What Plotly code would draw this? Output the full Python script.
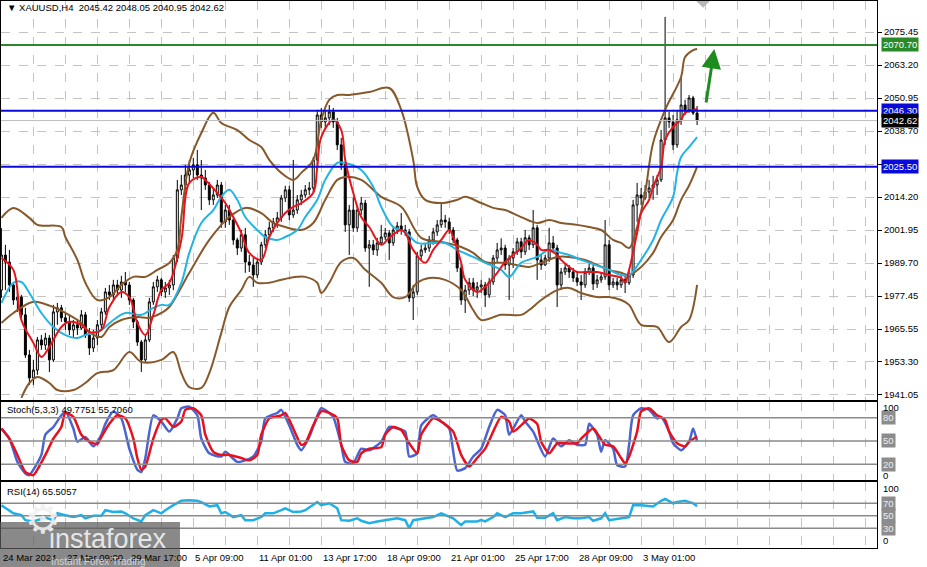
import plotly.graph_objects as go
from plotly.subplots import make_subplots

# ---- XAUUSD H4 candles (bar index 0..174) ----
bars = list(range(175))

opens = [
    1979.7, 1992.7, 1990.1, 1981.6, 1976.0, 1977.1, 1970.5, 1955.6, 1947.1, 1950.0,
    1961.2, 1959.3, 1961.9, 1953.8, 1971.6, 1973.1, 1969.4, 1967.9, 1964.9, 1966.8,
    1965.6, 1970.5, 1963.0, 1958.2, 1961.9, 1966.8, 1971.6, 1979.0, 1977.9, 1981.6,
    1979.7, 1982.7, 1981.6, 1976.0, 1967.9, 1960.4, 1953.8, 1961.2, 1975.3, 1980.9,
    1983.5, 1979.0, 1980.5, 1981.6, 1991.6, 2016.9, 2018.7, 2022.4, 2024.3, 2026.2,
    2022.4, 2021.3, 2018.7, 2013.2, 2015.0, 2018.7, 2005.0, 2009.4, 2005.7, 1998.3,
    1995.3, 2000.2, 1990.1, 1989.0, 1985.3, 1990.1, 1996.5, 2000.2, 2002.8, 2005.0,
    2006.5, 2013.9, 2016.9, 2007.6, 2009.4, 2013.2, 2015.0, 2016.9, 2017.6, 2028.0,
    2044.7, 2042.1, 2043.6, 2045.8, 2042.1, 2033.6, 2026.2, 2003.9, 2009.4, 2002.8,
    2009.4, 2012.0, 1995.3, 1996.5, 1994.6, 1997.2, 1999.4, 2000.9, 1997.2, 2002.0,
    2003.5, 2002.0, 2001.3, 1976.8, 1979.0, 1992.4, 1994.6, 1995.3, 1998.3, 2001.3,
    2003.9, 2005.7, 2005.0, 2002.0, 1998.3, 1987.9, 1976.0, 1979.7, 1982.4, 1979.7,
    1980.9, 1981.6, 1977.9, 1982.7, 1991.6, 1994.6, 1995.3, 1989.0, 1991.6, 1993.9,
    1997.6, 1993.9, 1999.1, 1996.5, 2002.8, 1990.9, 1989.0, 1991.6, 1997.2, 1995.3,
    1981.6, 1986.4, 1987.9, 1986.4, 1984.2, 1982.7, 1981.6, 1986.4, 1987.9, 1982.0,
    1983.5, 1984.6, 1996.5, 1981.6, 1982.7, 1981.6, 1983.5, 1982.4, 1985.3, 2011.3,
    2015.0, 2013.9, 2016.1, 2017.6, 2018.7, 2020.6, 2035.4, 2043.6, 2042.1, 2033.6,
    2042.9, 2048.4, 2046.6, 2051.0, 2045.42,
]
highs = [
    2002.7, 1996.5, 1994.6, 1982.4, 1979.0, 1977.9, 1973.1, 1957.5, 1953.8, 1962.3,
    1963.0, 1963.8, 1963.0, 1974.2, 1974.9, 1974.2, 1971.6, 1970.5, 1968.6, 1968.6,
    1972.3, 1971.6, 1965.6, 1964.9, 1968.6, 1973.1, 1980.5, 1981.6, 1983.5, 1983.5,
    1985.0, 1986.4, 1982.7, 1976.8, 1968.6, 1961.2, 1963.0, 1976.8, 1982.7, 1985.0,
    1984.2, 1982.7, 1983.5, 1992.7, 2020.6, 2022.4, 2026.2, 2028.0, 2028.8, 2031.7,
    2028.0, 2024.3, 2019.8, 2017.6, 2020.6, 2019.8, 2011.3, 2011.3, 2006.8, 1999.1,
    2002.0, 2002.8, 1992.7, 1991.6, 1991.6, 1997.6, 2002.0, 2005.0, 2006.5, 2008.7,
    2015.0, 2018.4, 2018.4, 2028.0, 2015.0, 2016.9, 2018.7, 2019.8, 2029.1, 2046.6,
    2047.3, 2046.6, 2048.4, 2047.3, 2043.6, 2036.2, 2027.3, 2011.3, 2014.3, 2011.3,
    2014.3, 2013.2, 1998.3, 1998.3, 1999.1, 2003.9, 2002.8, 2002.0, 2003.5, 2005.0,
    2008.3, 2003.9, 2002.4, 1981.6, 1993.9, 1996.5, 1997.2, 1999.8, 2002.8, 2005.7,
    2012.0, 2007.6, 2006.5, 2003.1, 1999.1, 1989.4, 1981.6, 1984.2, 1984.2, 1982.7,
    1983.5, 1982.7, 1984.2, 1992.7, 1997.2, 1998.9, 1996.5, 1992.7, 1995.3, 1999.1,
    1999.1, 2002.0, 2000.2, 2009.4, 2003.9, 1992.7, 1992.7, 2002.8, 1999.8, 1996.5,
    1987.9, 1989.8, 1989.0, 1987.9, 1986.4, 1985.3, 1987.9, 1990.1, 1989.0, 1985.3,
    1986.4, 2005.7, 1998.3, 1984.2, 1984.2, 1985.0, 1985.0, 1987.2, 2013.2, 2019.5,
    2017.6, 2018.7, 2020.6, 2022.1, 2022.4, 2039.1, 2081.1, 2045.8, 2044.7, 2046.6,
    2058.8, 2050.3, 2052.1, 2051.8, 2048.05,
]
lows = [
    1976.8, 1979.7, 1979.0, 1974.2, 1971.6, 1968.6, 1954.5, 1944.5, 1944.5, 1948.2,
    1957.5, 1957.5, 1949.3, 1953.0, 1966.8, 1967.9, 1964.9, 1963.0, 1961.9, 1963.0,
    1964.9, 1961.9, 1955.6, 1956.7, 1959.3, 1964.9, 1970.5, 1976.0, 1976.0, 1977.9,
    1976.8, 1979.0, 1974.2, 1965.6, 1959.0, 1949.3, 1953.0, 1960.4, 1974.2, 1979.0,
    1977.5, 1976.8, 1977.9, 1979.7, 1990.1, 2015.0, 2016.9, 2019.8, 2021.3, 2020.6,
    2009.4, 2016.9, 2011.3, 2011.3, 2013.9, 2002.8, 2002.8, 2003.9, 1996.5, 1992.7,
    1993.9, 1986.1, 1986.4, 1980.9, 1984.2, 1989.0, 1995.3, 1999.1, 2001.3, 2002.8,
    2005.0, 2012.4, 2005.7, 2006.5, 2008.0, 2011.3, 2013.9, 2015.0, 2016.1, 2026.2,
    2039.9, 2039.1, 2041.0, 2039.9, 2031.7, 2024.3, 2001.3, 1992.7, 2001.3, 2001.3,
    2007.6, 1993.9, 1980.9, 1992.7, 1992.4, 1996.5, 1998.3, 1990.9, 1996.1, 2000.5,
    2000.2, 1999.8, 1975.3, 1968.6, 1977.9, 1990.9, 1993.5, 1993.9, 1996.5, 1999.8,
    2002.8, 2002.8, 2000.5, 1997.2, 1986.4, 1974.2, 1971.2, 1977.9, 1977.5, 1976.8,
    1978.6, 1973.4, 1976.8, 1981.6, 1990.1, 1992.7, 1987.2, 1976.0, 1987.9, 1992.7,
    1991.6, 1992.7, 1994.6, 1995.3, 1983.5, 1987.2, 1988.7, 1990.1, 1993.9, 1973.4,
    1979.7, 1985.3, 1984.2, 1982.7, 1981.2, 1976.0, 1980.5, 1985.3, 1979.7, 1980.5,
    1982.4, 1983.5, 1979.7, 1980.5, 1979.7, 1980.5, 1978.6, 1981.6, 1984.2, 2005.0,
    2011.3, 2013.2, 2013.9, 2013.2, 2015.0, 2019.8, 2033.6, 2039.9, 2031.7, 2032.5,
    2041.0, 2044.7, 2045.5, 2044.7, 2040.95,
]
closes = [
    1992.7, 1990.1, 1981.6, 1976.0, 1977.1, 1970.5, 1955.6, 1947.1, 1950.0, 1961.2,
    1959.3, 1961.9, 1953.8, 1971.6, 1973.1, 1969.4, 1967.9, 1964.9, 1966.8, 1965.6,
    1970.5, 1963.0, 1958.2, 1961.9, 1966.8, 1971.6, 1979.0, 1977.9, 1981.6, 1979.7,
    1982.7, 1981.6, 1976.0, 1967.9, 1960.4, 1953.8, 1961.2, 1975.3, 1980.9, 1983.5,
    1979.0, 1980.5, 1981.6, 1991.6, 2016.9, 2018.7, 2022.4, 2024.3, 2026.2, 2022.4,
    2021.3, 2018.7, 2013.2, 2015.0, 2018.7, 2005.0, 2009.4, 2005.7, 1998.3, 1995.3,
    2000.2, 1990.1, 1989.0, 1985.3, 1990.1, 1996.5, 2000.2, 2002.8, 2005.0, 2006.5,
    2013.9, 2016.9, 2007.6, 2009.4, 2013.2, 2015.0, 2016.9, 2017.6, 2028.0, 2044.7,
    2042.1, 2043.6, 2045.8, 2042.1, 2033.6, 2026.2, 2003.9, 2009.4, 2002.8, 2009.4,
    2012.0, 1995.3, 1996.5, 1994.6, 1997.2, 1999.4, 2000.9, 1997.2, 2002.0, 2003.5,
    2002.0, 2001.3, 1976.8, 1979.0, 1992.4, 1994.6, 1995.3, 1998.3, 2001.3, 2003.9,
    2005.7, 2005.0, 2002.0, 1998.3, 1987.9, 1976.0, 1979.7, 1982.4, 1979.7, 1980.9,
    1981.6, 1977.9, 1982.7, 1991.6, 1994.6, 1995.3, 1989.0, 1991.6, 1993.9, 1997.6,
    1993.9, 1999.1, 1996.5, 2002.8, 1990.9, 1989.0, 1991.6, 1997.2, 1995.3, 1981.6,
    1986.4, 1987.9, 1986.4, 1984.2, 1982.7, 1981.6, 1986.4, 1987.9, 1982.0, 1983.5,
    1984.6, 1996.5, 1981.6, 1982.7, 1981.6, 1983.5, 1982.4, 1985.3, 2011.3, 2015.0,
    2013.9, 2016.1, 2017.6, 2018.7, 2020.6, 2035.4, 2043.6, 2042.1, 2033.6, 2042.9,
    2048.4, 2046.6, 2051.0, 2045.42, 2042.62,
]

# ---- overlays (bar index, price) ----
ma_fast_idx = [0, 3, 5, 8, 10, 12, 15, 17, 20, 22, 25, 27, 30, 32, 34, 36, 38, 40, 42, 45,
               47, 50, 51, 54, 56, 58, 60, 62, 65, 67, 69, 71, 73, 75, 78, 79, 80, 83, 85, 86,
               88, 90, 92, 95, 97, 100, 101, 103, 106, 108, 110, 112, 113, 115, 116, 119, 121,
               124, 126, 130, 132, 134, 135, 137, 139, 140, 142, 144, 146, 149, 150, 152, 155,
               156, 157, 159, 160, 162, 163, 165, 166, 168, 170, 171, 173, 174]
ma_fast = [1991.6, 1987.2, 1968.6, 1960.1, 1954.9, 1958.6, 1966.0, 1967.9, 1966.8, 1964.1,
           1964.9, 1973.4, 1979.0, 1977.1, 1967.5, 1963.0, 1970.5, 1979.7, 1982.4, 1998.3,
           2019.5, 2021.7, 2020.6, 2015.8, 2012.0, 2006.8, 2000.9, 1993.5, 1990.9, 1999.4,
           2004.6, 2008.3, 2010.6, 2012.0, 2015.8, 2025.4, 2036.5, 2042.9, 2039.1, 2028.0,
           2015.8, 2006.8, 2003.1, 1996.5, 1999.1, 2002.0, 2000.9, 1994.6, 1989.8, 1994.6,
           1998.3, 2002.0, 1999.4, 1989.8, 1983.5, 1979.0, 1980.9, 1986.1, 1990.1, 1995.3,
           1998.3, 1996.5, 1994.6, 1994.6, 1992.7, 1990.9, 1988.3, 1986.4, 1986.4, 1986.4,
           1986.1, 1985.3, 1984.2, 1982.7, 1987.2, 2000.9, 2008.3, 2013.2, 2018.0, 2025.4,
           2035.4, 2040.3, 2042.9, 2045.5, 2046.6, 2046.9]

ma_slow_idx = [0, 3, 5, 7, 10, 13, 16, 19, 21, 25, 28, 31, 35, 38, 40, 42, 45, 47, 50, 53,
               55, 57, 59, 61, 64, 66, 69, 71, 74, 76, 79, 81, 84, 86, 90, 93, 95, 98, 101,
               104, 108, 111, 114, 118, 121, 125, 127, 130, 134, 137, 140, 142, 145, 147, 150,
               152, 155, 157, 160, 163, 165, 168, 169, 170, 172, 174]
ma_slow = [1974.9, 1982.4, 1982.7, 1978.6, 1971.2, 1966.0, 1963.0, 1961.9, 1963.0, 1964.9,
           1968.6, 1971.2, 1970.5, 1973.1, 1974.2, 1974.2, 1982.4, 1993.5, 2004.6, 2009.4,
           2014.3, 2016.9, 2013.2, 2006.8, 2002.0, 1999.4, 1998.3, 1999.4, 2002.0, 2006.8,
           2013.2, 2020.6, 2026.9, 2026.9, 2024.3, 2018.0, 2010.6, 2003.1, 2001.3, 1997.2,
           1997.2, 1997.2, 1994.6, 1992.0, 1989.8, 1987.2, 1984.6, 1989.8, 1992.0, 1994.6,
           1993.5, 1992.7, 1990.9, 1989.8, 1988.3, 1987.2, 1985.3, 1985.3, 1990.9, 1998.3,
           2005.7, 2014.3, 2023.2, 2029.1, 2032.8, 2036.5]

bb_upper_idx = [0, 3, 7, 9, 15, 16, 19, 21, 24, 27, 30, 33, 36, 39, 42, 44, 45, 47, 50, 53,
                55, 59, 62, 65, 67, 70, 73, 75, 78, 80, 82, 84, 87, 92, 97, 100, 103, 104, 106,
                110, 114, 116, 120, 123, 126, 130, 134, 137, 140, 144, 147, 150, 153, 155, 157,
                159, 161, 163, 166, 170, 171, 173, 174]
bb_upper = [2006.5, 2010.2, 2006.5, 2003.9, 2003.1, 1999.4, 1990.9, 1982.4, 1976.0, 1977.1,
            1981.6, 1984.6, 1984.6, 1987.2, 1989.8, 1994.6, 2006.8, 2026.9, 2038.0, 2045.5,
            2041.7, 2039.1, 2035.4, 2032.8, 2028.0, 2023.2, 2020.6, 2023.2, 2028.0, 2042.9,
            2050.3, 2052.1, 2052.1, 2053.2, 2054.7, 2046.6, 2028.0, 2018.0, 2013.2, 2012.0,
            2013.2, 2014.3, 2012.0, 2010.2, 2009.4, 2006.8, 2004.6, 2005.7, 2004.6, 2003.9,
            2003.1, 2002.0, 1998.3, 1997.2, 1995.3, 2003.1, 2015.8, 2034.3, 2046.6, 2058.8,
            2066.2, 2068.8, 2069.2]

bb_mid_idx = [0, 3, 7, 9, 13, 16, 20, 22, 25, 27, 30, 34, 37, 40, 42, 47, 52, 57, 61, 65,
              68, 71, 75, 78, 81, 84, 86, 90, 95, 100, 105, 110, 115, 118, 121, 126, 132, 135,
              139, 142, 146, 149, 152, 155, 157, 160, 163, 165, 168, 170, 172, 174]
bb_mid = [1967.5, 1971.2, 1974.9, 1975.3, 1973.4, 1971.2, 1967.5, 1964.1, 1962.3, 1966.0,
          1968.6, 1969.7, 1969.4, 1971.2, 1973.4, 1986.1, 1998.3, 2006.8, 2010.2, 2008.3,
          2004.6, 2003.1, 2002.0, 2004.6, 2013.2, 2020.6, 2021.7, 2020.6, 2014.3, 2010.6,
          1999.1, 1997.6, 1995.7, 1993.5, 1990.1, 1989.8, 1988.3, 1989.8, 1992.0, 1992.0,
          1990.9, 1989.0, 1987.2, 1986.1, 1985.3, 1988.3, 1993.5, 1999.4, 2005.7, 2013.2,
          2018.5, 2025.4]

bb_lower_idx = [5, 7, 9, 12, 14, 18, 21, 24, 28, 32, 35, 40, 43, 45, 47, 50, 52, 55, 57, 60,
                62, 64, 67, 70, 74, 76, 79, 80, 82, 85, 88, 91, 95, 98, 101, 104, 107, 111,
                115, 118, 120, 125, 130, 132, 135, 139, 142, 145, 149, 152, 155, 157, 160, 164,
                167, 170, 172, 174]
bb_lower = [1939.7, 1945.2, 1947.4, 1945.2, 1942.6, 1942.6, 1945.2, 1948.9, 1950.0, 1956.7,
            1953.0, 1953.8, 1956.7, 1948.9, 1943.7, 1943.4, 1948.9, 1963.8, 1973.4, 1979.7,
            1984.6, 1982.4, 1982.4, 1983.5, 1984.6, 1984.6, 1982.4, 1978.6, 1982.4, 1990.1,
            1991.6, 1987.2, 1982.4, 1977.1, 1977.1, 1982.4, 1984.2, 1983.5, 1979.7, 1972.3,
            1968.6, 1970.5, 1970.5, 1972.3, 1976.0, 1979.7, 1980.5, 1978.6, 1977.1, 1977.1,
            1976.0, 1974.2, 1966.8, 1966.0, 1960.4, 1966.0, 1968.6, 1981.6]

# ---- Stochastic(5,3,3) ----
stoch_main_idx = [0, 2, 4, 6, 7, 8, 10, 11, 13, 15, 16, 18, 19, 21, 23, 25, 26, 28, 30, 32,
                  34, 35, 36, 38, 40, 42, 44, 45, 47, 49, 50, 52, 55, 56, 59, 61, 63, 65, 66,
                  69, 70, 72, 74, 75, 77, 80, 82, 83, 85, 86, 88, 90, 92, 95, 97, 99, 101, 102,
                  104, 105, 108, 110, 112, 114, 116, 118, 120, 122, 124, 126, 127, 130, 131,
                  133, 136, 138, 140, 142, 144, 146, 147, 149, 150, 151, 153, 154, 156, 157,
                  158, 160, 162, 164, 165, 167, 168, 170, 172, 173, 174]
stoch_main = [66, 53, 23, 8, 6, 13, 32, 58, 68, 83, 88, 66, 49, 55, 43, 58, 72, 88, 79, 40,
              13, 10, 28, 83, 75, 62, 79, 92, 94, 83, 53, 34, 30, 36, 23, 25, 30, 49, 79,
              86, 90, 70, 45, 38, 55, 92, 86, 81, 45, 23, 21, 40, 38, 49, 68, 66, 62, 30,
              34, 70, 83, 75, 66, 12, 15, 30, 40, 68, 90, 83, 58, 83, 75,
              62, 30, 53, 43, 51, 45, 45, 72, 58, 36, 51, 40, 19, 17, 45,
              83, 92, 90, 79, 81, 62, 47, 38, 49, 66, 49.78]

stoch_signal_idx = [0, 2, 4, 6, 8, 9, 11, 13, 15, 16, 18, 20, 22, 24, 25, 27, 29, 31, 33, 34,
                    35, 36, 38, 40, 41, 43, 45, 46, 48, 50, 51, 53, 55, 57, 60, 62, 64, 65, 67,
                    70, 71, 73, 75, 76, 78, 80, 82, 84, 85, 87, 89, 90, 92, 95, 96, 98, 100,
                    102, 104, 105, 108, 110, 113, 115, 117, 119, 121, 123, 125, 127, 128, 130,
                    132, 134, 135, 137, 139, 141, 144, 145, 148, 149, 151, 153, 155, 156, 157,
                    159, 160, 162, 164, 166, 167, 169, 171, 172, 174]
stoch_signal = [66, 53, 32, 10, 6, 13, 32, 53, 68, 86, 81, 58, 49, 46, 55, 72, 83, 79, 53, 28,
                13, 17, 53, 77, 79, 68, 75, 90, 92, 83, 58, 36, 32, 32, 28, 25, 32, 58, 79,
                83, 86, 66, 45, 47, 70, 88, 86, 79, 45, 25, 23, 34, 40, 42, 58, 68, 64,
                47, 34, 58, 79, 75, 62, 32, 17, 28, 40, 62, 81, 75, 62, 70,
                79, 72, 49, 34, 47, 47, 47, 53, 66, 60, 45, 43, 28, 21, 30,
                62, 88, 92, 83, 77, 62, 47, 43, 49, 55.71]

# ---- RSI(14) ----
rsi_idx = [0, 2, 3, 5, 6, 8, 10, 11, 13, 14, 16, 18, 20, 21, 23, 25, 26, 28, 30, 31, 33, 35,
           36, 38, 40, 41, 43, 45, 47, 49, 50, 52, 54, 55, 56, 58, 60, 61, 63, 65, 66, 68, 70,
           71, 73, 75, 76, 79, 80, 82, 84, 85, 87, 89, 90, 92, 94, 95, 97, 99, 101, 102, 103,
           105, 108, 110, 111, 113, 115, 116, 119, 120, 121, 123, 124, 126, 128, 130, 133, 134,
           136, 138, 139, 141, 143, 145, 147, 148, 150, 151, 152, 155, 157, 158, 160, 163, 165,
           166, 168, 169, 171, 173, 174]
rsi = [67, 59, 54, 51, 43, 41, 45, 47, 43, 54, 51, 48, 51, 46, 50, 50, 59, 56, 57, 54, 46, 41,
       51, 59, 54, 59, 67, 74, 75, 74, 72, 65, 67, 54, 56, 48, 51, 43, 43, 48, 54, 54, 59,
       62, 56, 57, 59, 72, 67, 70, 62, 43, 42, 46, 42, 38, 41, 42, 43, 46, 43, 30, 43,
       45, 48, 54, 51, 46, 35, 41, 41, 43, 41, 48, 54, 48, 54, 54, 57, 47,
       47, 54, 43, 48, 46, 46, 48, 42, 46, 54, 43, 46, 48, 67, 67, 65, 74,
       77, 70, 72, 74, 70, 65.51]

price_ticks = [2075.45, 2063.20, 2050.95, 2038.70, 2026.45, 2014.20, 2001.95, 1989.70,
               1977.45, 1965.20, 1953.30, 1941.05]
price_tick_text = ["2075.45", "2063.20", "2050.95", "2038.70", "", "2014.20", "2001.95",
                   "1989.70", "1977.45", "1965.55", "1953.30", "1941.05"]

date_ticks = [0, 16, 32, 48, 64, 80, 96, 112, 128, 144, 160]
date_labels = ["24 Mar 2024", "27 Mar 09:00", "29 Mar 17:00", "5 Apr 09:00", "11 Apr 01:00",
               "13 Apr 17:00", "18 Apr 09:00", "21 Apr 01:00", "25 Apr 17:00", "28 Apr 09:00",
               "3 May 01:00"]

resistance = 2070.70
levels_blue = [2046.30, 2025.50]
last_price = 2042.62

FONT = "Liberation Sans"
GRID = "#c4c4c4"
BROWN = "#87582a"

fig = make_subplots(rows=3, cols=1, shared_xaxes=True, vertical_spacing=0.0)

fig.add_trace(go.Candlestick(
    x=bars, open=opens, high=highs, low=lows, close=closes,
    increasing=dict(line=dict(color="black", width=1), fillcolor="white"),
    decreasing=dict(line=dict(color="black", width=1), fillcolor="black"),
    whiskerwidth=0, showlegend=False, hoverinfo="skip",
), row=1, col=1)

for idx, vals in [(bb_upper_idx, bb_upper), (bb_mid_idx, bb_mid), (bb_lower_idx, bb_lower)]:
    fig.add_trace(go.Scatter(x=idx, y=vals, mode="lines", line=dict(color=BROWN, width=2, shape="spline"),
                             showlegend=False, hoverinfo="skip"), row=1, col=1)
fig.add_trace(go.Scatter(x=ma_slow_idx, y=ma_slow, mode="lines",
                         line=dict(color="#22b4e4", width=2, shape="spline"),
                         showlegend=False, hoverinfo="skip"), row=1, col=1)
fig.add_trace(go.Scatter(x=ma_fast_idx, y=ma_fast, mode="lines",
                         line=dict(color="#e8141c", width=2, shape="spline"),
                         showlegend=False, hoverinfo="skip"), row=1, col=1)
# chart shift marker at the top
fig.add_trace(go.Scatter(x=[175.5], y=[2087.6], mode="markers",
                         marker=dict(symbol="diamond", size=13, color="#b8b8b8"),
                         showlegend=False, hoverinfo="skip"), row=1, col=1)

fig.add_trace(go.Scatter(x=stoch_main_idx, y=stoch_main, mode="lines",
                         line=dict(color="#4a64d2", width=2.5, shape="spline", smoothing=0.6),
                         showlegend=False, hoverinfo="skip"), row=2, col=1)
fig.add_trace(go.Scatter(x=stoch_signal_idx, y=stoch_signal, mode="lines",
                         line=dict(color="#e8101c", width=2.5, shape="spline", smoothing=0.6),
                         showlegend=False, hoverinfo="skip"), row=2, col=1)
fig.add_trace(go.Scatter(x=rsi_idx, y=rsi, mode="lines",
                         line=dict(color="#1eb0e6", width=2.5),
                         showlegend=False, hoverinfo="skip"), row=3, col=1)

# horizontal levels
fig.add_hline(y=last_price, line=dict(color="#bdbdbd", width=1), row=1, col=1)
fig.add_hline(y=resistance, line=dict(color="#2a8a2a", width=2), row=1, col=1)
for lv in levels_blue:
    fig.add_hline(y=lv, line=dict(color="#0a0ad8", width=2), row=1, col=1)
for lv in [80, 50, 20]:
    fig.add_hline(y=lv, line=dict(color="#8a8a8a", width=1.5), row=2, col=1)
for lv in [70, 50, 30]:
    fig.add_hline(y=lv, line=dict(color="#8a8a8a", width=1.5), row=3, col=1)

# arrow
fig.add_annotation(x=178.3, y=2069.2, ax=176.2, ay=2048.8, xref="x", yref="y", axref="x", ayref="y",
                   text="", showarrow=True, arrowhead=2, arrowsize=1.3, arrowwidth=3,
                   arrowcolor="#1e8c1e")

grid_ticks = list(range(0, 220, 8))
axis_common = dict(showline=True, mirror=True, linecolor="black", linewidth=1)
for n in (1, 2, 3):
    fig.update_xaxes(range=[-0.1, 219], tickvals=grid_ticks, showticklabels=False,
                     showgrid=True, gridcolor=GRID, griddash="dash", gridwidth=1,
                     zeroline=False, rangeslider_visible=False, row=n, col=1, **axis_common)

fig.update_yaxes(domain=[0.2706, 1.0], range=[1938.9, 2087.0], side="right",
                 tickvals=price_ticks, ticktext=price_tick_text,
                 tickfont=dict(family=FONT, size=9.5, color="black"),
                 ticks="outside", ticklen=4, tickcolor="black",
                 showgrid=True, gridcolor=GRID, griddash="dash", zeroline=False,
                 row=1, col=1, **axis_common)
fig.update_yaxes(domain=[0.1243, 0.2669], range=[-0.3, 100.1], showticklabels=False,
                 showgrid=False, zeroline=False, row=2, col=1, **axis_common)
fig.update_yaxes(domain=[0.0, 0.1207], range=[-1.5, 104.1], showticklabels=False,
                 showgrid=False, zeroline=False, row=3, col=1, **axis_common)


def tag(y, text, bg, yref="y", color="white"):
    fig.add_annotation(xref="paper", x=1, xanchor="left", xshift=4, y=y, yref=yref,
                       text=text, showarrow=False, bgcolor=bg, borderpad=1,
                       font=dict(family=FONT, size=9.5, color=color))


tag(resistance, "2070.70", "#2a8a2a")
tag(levels_blue[0], "2046.30", "#0a0ad8")
tag(last_price, "2042.62", "black")
tag(levels_blue[1], "2025.50", "#0a0ad8")
for lv in [80, 50, 20]:
    tag(lv, str(lv), "#8c8c8c", yref="y2", color="#eeeeee")
for lv in [70, 50, 30]:
    tag(lv, str(lv), "#8c8c8c", yref="y3", color="#eeeeee")
for yv, yr, t in [(93, "y2", "100"), (5, "y2", "0"), (93, "y3", "100"), (9.7, "y3", "0")]:
    fig.add_annotation(xref="paper", x=1, xanchor="left", xshift=4, y=yv, yref=yr, text=t,
                       showarrow=False, font=dict(family=FONT, size=9.5, color="black"))

# date labels
for t, lab in zip(date_ticks, date_labels):
    fig.add_annotation(x=t, xref="x3", y=-0.0165, yref="paper", xanchor="left", yanchor="middle",
                       text=lab, showarrow=False, font=dict(family=FONT, size=9.5, color="black"))

# panel captions
fig.add_annotation(xref="paper", x=0.004, y=0.989, yref="paper", xanchor="left", yanchor="middle",
                   text="▼ XAUUSD,H4  2045.42 2048.05 2040.95 2042.62", showarrow=False,
                   font=dict(family=FONT, size=9.5, color="black"))
fig.add_annotation(xref="paper", x=0.004, y=0.2541, yref="paper", xanchor="left", yanchor="middle",
                   text="Stoch(5,3,3) 49.7751 55.7060", showarrow=False,
                   font=dict(family=FONT, size=9.5, color="black"))
fig.add_annotation(xref="paper", x=0.004, y=0.1024, yref="paper", xanchor="left", yanchor="middle",
                   text="RSI(14) 65.5057", showarrow=False,
                   font=dict(family=FONT, size=9.5, color="black"))

# watermark (semi-transparent, drawn over the bottom-left corner)
fig.add_shape(type="rect", xref="paper", yref="paper", x0=-0.002, x1=0.2043, y0=-0.04, y1=0.0475,
              fillcolor="rgba(92,92,92,0.72)", line=dict(width=0), layer="above")
fig.add_annotation(xref="paper", x=0.025, y=0.008, yref="paper", text="⚙", showarrow=False,
                   font=dict(family="DejaVu Sans", size=40, color="rgba(240,240,240,0.92)"))
fig.add_annotation(xref="paper", x=0.052, xanchor="left", y=0.016, yref="paper", yanchor="middle",
                   text="instaforex", showarrow=False,
                   font=dict(family=FONT, size=27, color="rgba(240,240,240,0.92)"))
fig.add_annotation(xref="paper", x=0.055, xanchor="left", y=-0.025, yref="paper", yanchor="middle",
                   text="Instant Forex Trading", showarrow=False,
                   font=dict(family=FONT, size=10, color="rgba(225,225,225,0.85)"))

fig.update_layout(
    width=927, height=567,
    margin=dict(l=1, r=50, t=1, b=19),
    paper_bgcolor="white", plot_bgcolor="white",
    showlegend=False,
    font=dict(family=FONT, size=9.5, color="black"),
)

fig.write_html("out.html", config={"displayModeBar": False},
               post_script="document.body.style.margin='0px';")
